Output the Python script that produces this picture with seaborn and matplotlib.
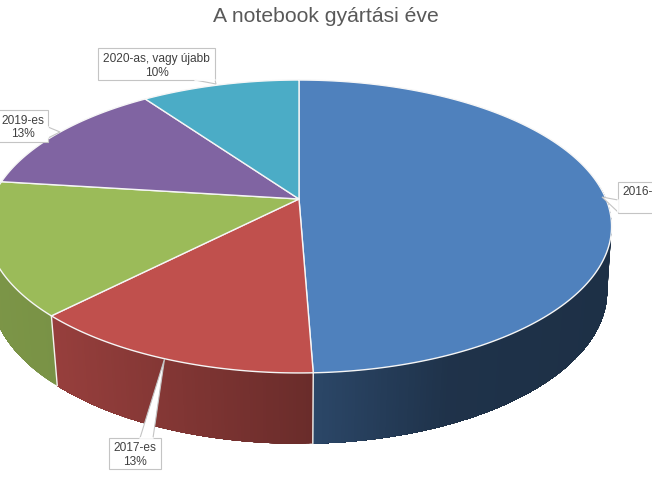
import numpy as np
import matplotlib
matplotlib.use("Agg")
import matplotlib.pyplot as plt
from matplotlib.patches import Polygon
from matplotlib.collections import PolyCollection
import seaborn as sns

# Data
categories = ["2016-", "2017-es", "2018-es", "2019-es", "2020-as, vagy újabb"]
shares = [49.4, 12.9, 14.7, 13.2, 9.8]
label_percent = ["", "13%", "", "13%", "10%"]
slice_colors = ["#4f81bd", "#c0504d", "#9bbb59", "#8064a2", "#4bacc6"]
title_text = "A notebook gyártási éve"

sns.set_theme(style="white")
plt.rcParams["font.family"] = ["Liberation Sans", "DejaVu Sans"]
palette = sns.color_palette(slice_colors)

fig = plt.figure(figsize=(6.52, 4.89), dpi=100, facecolor="white")
ax = fig.add_axes([0, 0, 1, 1])
ax.set_xlim(0, 652)
ax.set_ylim(489, 0)
ax.axis("off")
sns.despine(ax=ax, left=True, bottom=True)


def top_face(t):
    """Perspective projection of the disc's upper face; t = clockwise from top."""
    u, v = np.sin(t), -np.cos(t)
    w = 1 - 0.1877 * v
    return 299 + 307 * u / w, 200 + 141.3 * v / w


def bottom_face(t):
    u, v = np.sin(t), -np.cos(t)
    w = 1 - 0.172 * v
    return 299 + 303.6 * u / w, 266 + 148 * v / w


def shade(x, rgb):
    f = np.interp(x, [-13, 58, 313, 450, 611], [0.80, 0.78, 0.55, 0.39, 0.37])
    return tuple(np.array(rgb) * f)


edges = np.radians(np.cumsum([0] + shares) * 3.6)

# Side walls: overlapping strips, painted in order, give a smooth gradient
for a, b, rgb in zip(edges[:-1], edges[1:], palette):
    ts = np.linspace(a, b, max(int(np.degrees(b - a)) * 2, 3))
    ts = ts[-np.cos(ts) > -0.12]
    if len(ts) < 2:
        continue
    xt, yt = top_face(ts)
    xb, yb = bottom_face(ts)
    n = len(ts)
    order = range(n - 1) if xt[-1] > xt[0] else range(n - 1)
    quads, cols = [], []
    for i in order:
        j = n - 1
        quads.append([(xt[k], yt[k]) for k in range(i, j + 1)] +
                     [(xb[k], yb[k]) for k in range(j, i - 1, -1)])
        cols.append(shade((xt[i] + xt[i + 1]) / 2, rgb))
    ax.add_collection(PolyCollection(quads, facecolors=cols, edgecolors="none",
                                     linewidths=0, zorder=2))

# Vertical seams at the front
for e in edges[1:3]:
    xt, yt = top_face(e)
    xb, yb = bottom_face(e)
    ax.plot([xt, xb], [yt, yb], color="#f4f4f0", lw=1.0, zorder=3)

# Top faces
for a, b, rgb in zip(edges[:-1], edges[1:], palette):
    ts = np.linspace(a, b, 200)
    x, y = top_face(ts)
    pts = np.vstack([[299, 200], np.column_stack([x, y])])
    ax.add_patch(Polygon(pts, closed=True, facecolor=rgb, edgecolor="#f6f6f6",
                         lw=1.0, joinstyle="round", zorder=4))

# Callout labels
box_edge = "#c4c4c4"
text_color = "#404040"
callouts = [
    ((98, 49, 117, 32), [(195, 81), (216, 85), (215, 81)], (156.5, 66), "center",
     categories[4] + "\n" + label_percent[4]),
    ((-30, 111, 78, 32), [(48, 128), (60, 133), (48, 139)], (23, 127.5), "center",
     categories[3] + "\n" + label_percent[3]),
    ((109, 439, 52, 31), [(140, 439), (164.5, 360), (153, 439)], (135, 455), "center",
     categories[1] + "\n" + label_percent[1]),
    ((618, 183, 60, 31), [(618, 201), (602, 198), (618, 213)], (622.5, 192), "left",
     categories[0]),
]
for (bx, by, bw, bh), tip, (tx, ty), ha, txt in callouts:
    ax.add_patch(plt.Rectangle((bx, by), bw, bh, facecolor="white",
                               edgecolor=box_edge, lw=0.8, zorder=5))
    ax.add_patch(Polygon(tip, closed=False, facecolor="white", edgecolor=box_edge,
                         lw=0.8, zorder=5))
    # hide the box edge under the pointer base
    ax.plot([tip[0][0], tip[2][0]], [tip[0][1], tip[2][1]], color="white", lw=1.2, zorder=6)
    ax.text(tx, ty, txt, ha=ha, va="center", fontsize=8.6, color=text_color,
            linespacing=1.2, zorder=7)

ax.text(326, 17, title_text, ha="center", va="center", fontsize=15.2, color="#595959")

fig.savefig("out.png", dpi=100, facecolor="white")
